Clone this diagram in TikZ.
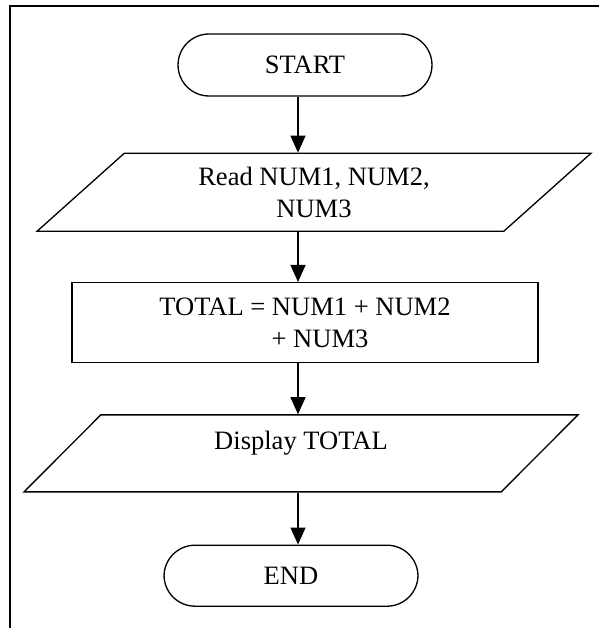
\documentclass[tikz,border=0pt]{standalone}
\usepackage{fontspec}
\setmainfont{Liberation Serif}
\usepackage{tikz}
\usetikzlibrary{shapes.geometric, positioning, arrows.meta}
\tikzset{
    flow edge/.style = {draw, line width=0.75pt, -{Triangle[length=0.34cm, width=0.3cm]}},
}
\tikzset{
    terminal/.style = {draw, line width=0.75pt, rectangle, rounded corners=0.62cm, minimum width=5.08cm, minimum height=1.24cm},
    io/.style = {draw, line width=0.75pt, trapezium, trapezium stretches body, trapezium left angle=35.5, trapezium right angle=144.5, minimum width=11.08cm, minimum height=1.56cm, align=center},
    process/.style = {draw, line width=0.75pt, rectangle, minimum width=9.32cm, minimum height=1.6cm, align=center},
}

\begin{document}
\begin{tikzpicture}[x=0.02cm, y=-0.02cm, font=\fontsize{15.1}{18.1}\selectfont]
            \useasboundingbox (0,0) rectangle (599,628);
            \draw[line width=1.1pt] (599,6) -- (10,6) -- (10,628);

            \node[terminal] (start) at (305,65) {START};
            \node[io] (read) [below=1.12cm of start, xshift=0.18cm] {Read NUM1, NUM2,\\ NUM3};
            \node[process] (total) [below=1.0cm of read, xshift=-0.18cm] {TOTAL = NUM1 + NUM2\\ \hspace{0.6cm}+ NUM3};
            \node[io, minimum height=1.54cm, text height=0.36cm, text depth=0.5cm] (disp) [below=1.02cm of total, xshift=-0.08cm] {Display TOTAL};
            \node[terminal, minimum height=1.22cm] (end) [below=1.04cm of disp, xshift=-0.2cm] {END};

            \coordinate (ax) at (298,0);
            \draw[flow edge] (start.south -| ax) -- (read.north -| ax);
            \draw[flow edge] (read.south -| ax) -- (total.north -| ax);
            \draw[flow edge] (total.south -| ax) -- (disp.north -| ax);
            \draw[flow edge] (disp.south -| ax) -- (end.north -| ax);
        \end{tikzpicture}
\end{document}
